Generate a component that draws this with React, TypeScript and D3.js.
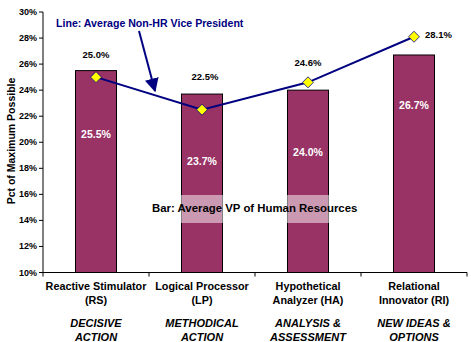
import React from "react";
import * as d3 from "d3";

const categories = ["RS", "LP", "HA", "RI"];
const categoryLine1 = ["Reactive Stimulator", "Logical Processor", "Hypothetical", "Relational"];
const categoryLine2 = ["(RS)", "(LP)", "Analyzer (HA)", "Innovator (RI)"];
const styleLine1 = ["DECISIVE", "METHODICAL", "ANALYSIS &", "NEW IDEAS &"];
const styleLine2 = ["ACTION", "ACTION", "ASSESSMENT", "OPTIONS"];
const barValues = [25.5, 23.7, 24.0, 26.7];
const lineValues = [25.0, 22.5, 24.6, 28.1];
const yTicks = [10, 12, 14, 16, 18, 20, 22, 24, 26, 28, 30];

// layout (pixel) offsets for labels, not data
const barLabelOffset = [63, 67, 62, 50];
const lineLabelDx = [0, 3, 0, 11];
const lineLabelDy = [-22, -33, -19, -2];

const W = 471;
const H = 342;
const FONT = "'Liberation Sans', Arial, sans-serif";

export default function App() {
  const x = d3
    .scaleBand<string>()
    .domain(categories)
    .range([43, 467])
    .paddingInner(0.613)
    .paddingOuter(0.3065);
  const y = d3.scaleLinear().domain([10, 30]).range([272.5, 12]);
  const cx = (i: number) => (x(categories[i]) as number) + x.bandwidth() / 2;
  const linePath = d3
    .line<number>()
    .x((_, i) => cx(i))
    .y((d) => y(d))(lineValues) as string;
  const step = x.step();
  const boundaries = d3.range(categories.length + 1).map((i) => 43 + i * step);
  const diamond = (px: number, py: number) =>
    `M${px},${py - 5.5}L${px + 5.5},${py}L${px},${py + 5.5}L${px - 5.5},${py}Z`;

  return (
    <svg
      width={W}
      height={H}
      style={{ position: "absolute", left: 0, top: 0, background: "#fff" }}
      fontFamily={FONT}
    >
      <defs>
        <marker id="ah" viewBox="0 0 10 10" refX="9" refY="5" markerWidth="7" markerHeight="7" orient="auto">
          <path d="M0,0L10,5L0,10Z" fill="#000080" />
        </marker>
      </defs>
      {/* bars */}
      {barValues.map((v, i) => (
        <rect
          key={"b" + i}
          x={x(categories[i])}
          y={y(v)}
          width={x.bandwidth()}
          height={y(10) - y(v)}
          fill="#993366"
          stroke="#000"
          strokeWidth={1}
        />
      ))}
      {barValues.map((v, i) => (
        <text
          key={"bl" + i}
          x={cx(i)}
          y={y(v) + barLabelOffset[i] + 4}
          textAnchor="middle"
          fill="#fff"
          fontSize={10.5}
          fontWeight="bold"
        >
          {v.toFixed(1)}%
        </text>
      ))}
      {/* bar annotation */}
      <rect x={150} y={195} width={212} height={28} fill="#fff" opacity={0.5} />
      <text x={152} y={212} fontSize={11.4} fontWeight="bold" fill="#000">
        Bar: Average VP of Human Resources
      </text>
      {/* axes */}
      <line x1={43} x2={43} y1={y(30)} y2={y(10)} stroke="#000" />
      {yTicks.map((t) => (
        <g key={"t" + t}>
          <line x1={39} x2={43} y1={y(t)} y2={y(t)} stroke="#000" />
          <text x={37} y={y(t) + 3} textAnchor="end" fontSize={9} fontWeight="bold">
            {t}%
          </text>
        </g>
      ))}
      <line x1={43} x2={467} y1={y(10)} y2={y(10)} stroke="#000" />
      {boundaries.map((b, i) => (
        <line key={"xt" + i} x1={b} x2={b} y1={y(10)} y2={y(10) + 4} stroke="#000" />
      ))}
      <text
        transform={`translate(15,141) rotate(-90)`}
        textAnchor="middle"
        fontSize={10.5}
        fontWeight="bold"
      >
        Pct of Maximum Possible
      </text>
      {categories.map((c, i) => (
        <g key={"c" + c}>
          <text x={cx(i)} y={290} textAnchor="middle" fontSize={10.8} fontWeight="bold">
            {categoryLine1[i]}
          </text>
          <text x={cx(i)} y={304} textAnchor="middle" fontSize={10.8} fontWeight="bold">
            {categoryLine2[i]}
          </text>
          <text x={cx(i)} y={327} textAnchor="middle" fontSize={11} fontWeight="bold" fontStyle="italic">
            {styleLine1[i]}
          </text>
          <text x={cx(i)} y={341} textAnchor="middle" fontSize={11} fontWeight="bold" fontStyle="italic">
            {styleLine2[i]}
          </text>
        </g>
      ))}
      {/* line series */}
      <path d={linePath} fill="none" stroke="#000080" strokeWidth={2} />
      {lineValues.map((v, i) => (
        <path key={"d" + i} d={diamond(cx(i), y(v))} fill="#ffff00" stroke="#000080" strokeWidth={0.8} />
      ))}
      {lineValues.map((v, i) => (
        <text
          key={"ll" + i}
          x={cx(i) + lineLabelDx[i]}
          y={y(v) + lineLabelDy[i] + 3}
          textAnchor={i === 3 ? "start" : "middle"}
          fontSize={9.5}
          fontWeight="bold"
        >
          {v.toFixed(1)}%
        </text>
      ))}
      {/* line annotation */}
      <text x={56} y={27} fontSize={10.6} fontWeight="bold" fill="#000080">
        Line: Average Non-HR Vice President
      </text>
      <line x1={139} y1={31} x2={155} y2={91} stroke="#000080" strokeWidth={2} markerEnd="url(#ah)" />
    </svg>
  );
}
